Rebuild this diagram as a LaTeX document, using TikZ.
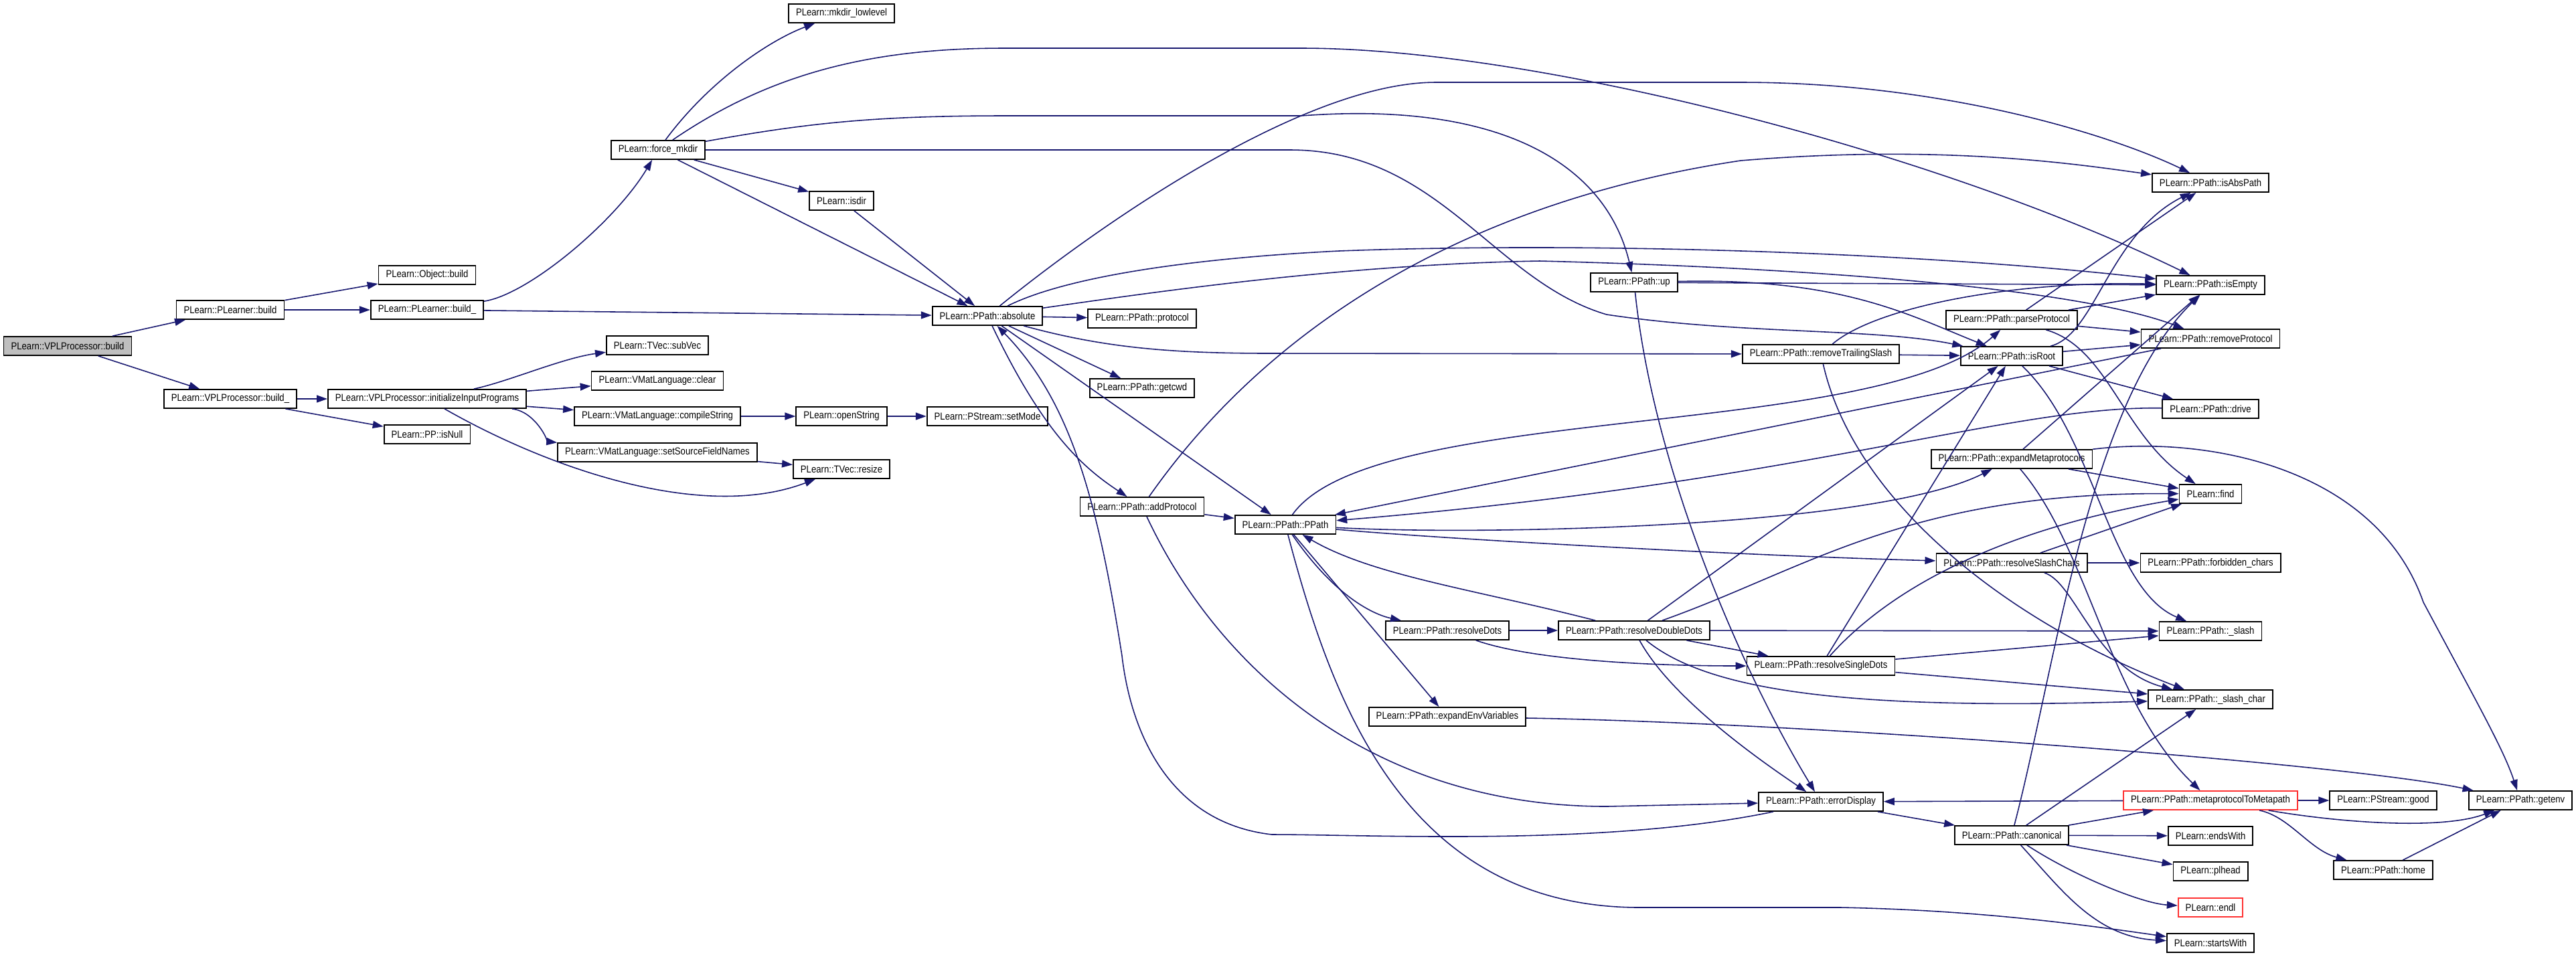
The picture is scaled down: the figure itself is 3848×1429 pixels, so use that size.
\documentclass[tikz,border=0pt]{standalone}
\usepackage{fontspec}
\setmainfont{Liberation Sans}[FakeStretch=0.87]
\usetikzlibrary{arrows.meta}
\definecolor{midnight}{HTML}{191970}
\definecolor{rootgray}{HTML}{BFBFBF}
\tikzset{
  fnbox/.style={draw=black, line width=0.5pt, fill=white, minimum height=0.28cm,
    inner xsep=0.11cm, inner ysep=0pt, font=\fontsize{4.3}{5}\selectfont},
  fnroot/.style={fnbox, fill=rootgray},
  fnred/.style={fnbox, draw=red!80!white},
  callarrow/.style={draw=midnight, line width=0.45pt, -{Triangle[length=0.16cm,width=0.11cm]}},
}
\begin{document}
\begin{tikzpicture}[x=0.01cm, y=-0.01cm]
% Picture size in pixels of the call graph
\useasboundingbox (0,0) rectangle (3848,1429);

% Callers and first levels
\node[fnroot] (vb) at (101,517) {PLearn::VPLProcessor::build};
\node[fnbox] (pb) at (344,463) {PLearn::PLearner::build};
\node[fnbox] (vbu) at (344,596) {PLearn::VPLProcessor::build\_};
\node[fnbox] (ob) at (638,411) {PLearn::Object::build};
\node[fnbox] (pbu) at (638,463) {PLearn::PLearner::build\_};
\node[fnbox] (iip) at (638,596) {PLearn::VPLProcessor::initializeInputPrograms};
\node[fnbox] (isn) at (638,649) {PLearn::PP::isNull};
\node[fnbox] (fmk) at (983,224) {PLearn::force\_mkdir};
\node[fnbox] (sub) at (982,516) {PLearn::TVec::subVec};
\node[fnbox] (clr) at (982,569) {PLearn::VMatLanguage::clear};
\node[fnbox] (cmp) at (982,622) {PLearn::VMatLanguage::compileString};
\node[fnbox] (ssf) at (982,676) {PLearn::VMatLanguage::setSourceFieldNames};
\node[fnbox] (mkl) at (1257,20) {PLearn::mkdir\_lowlevel};
\node[fnbox] (isd) at (1257,300) {PLearn::isdir};
\node[fnbox] (ops) at (1257,622) {PLearn::openString};
\node[fnbox] (rsz) at (1257,701) {PLearn::TVec::resize};
\node[fnbox] (abs) at (1475,472) {PLearn::PPath::absolute};
\node[fnbox] (stm) at (1475,622) {PLearn::PStream::setMode};

% PPath part
\node[fnbox] (pro) at (1706,476) {PLearn::PPath::protocol};
\node[fnbox] (cwd) at (1706,580) {PLearn::PPath::getcwd};
\node[fnbox] (adp) at (1706,757) {PLearn::PPath::addProtocol};
\node[fnbox] (pp) at (1920,784) {PLearn::PPath::PPath};
\node[fnbox] (rdt) at (2162,942) {PLearn::PPath::resolveDots};
\node[fnbox] (eev) at (2162,1071) {PLearn::PPath::expandEnvVariables};
\node[fnbox] (up) at (2441,422) {PLearn::PPath::up};
\node[fnbox] (rdd) at (2441,942) {PLearn::PPath::resolveDoubleDots};
\node[fnbox] (rts) at (2720,529) {PLearn::PPath::removeTrailingSlash};
\node[fnbox] (rsd) at (2720,995) {PLearn::PPath::resolveSingleDots};
\node[fnbox] (err) at (2720,1198) {PLearn::PPath::errorDisplay};
\node[fnbox] (ppr) at (3005,478) {PLearn::PPath::parseProtocol};
\node[fnbox] (isr) at (3005,532) {PLearn::PPath::isRoot};
\node[fnbox] (emp) at (3005,686) {PLearn::PPath::expandMetaprotocols};
\node[fnbox] (rsc) at (3005,841) {PLearn::PPath::resolveSlashChars};
\node[fnbox] (can) at (3005,1248) {PLearn::PPath::canonical};

% Leaves on the right
\node[fnbox] (iap) at (3302,273) {PLearn::PPath::isAbsPath};
\node[fnbox] (ise) at (3302,426) {PLearn::PPath::isEmpty};
\node[fnbox] (rmp) at (3302,506) {PLearn::PPath::removeProtocol};
\node[fnbox] (drv) at (3302,611) {PLearn::PPath::drive};
\node[fnbox] (fnd) at (3302,738) {PLearn::find};
\node[fnbox] (fbc) at (3302,841) {PLearn::PPath::forbidden\_chars};
\node[fnbox] (sl) at (3302,943) {PLearn::PPath::\_slash};
\node[fnbox] (slc) at (3302,1045) {PLearn::PPath::\_slash\_char};
\node[fnred] (mtm) at (3302,1196) {PLearn::PPath::metaprotocolToMetapath};
\node[fnbox] (ew) at (3302,1249) {PLearn::endsWith};
\node[fnbox] (plh) at (3302,1302) {PLearn::plhead};
\node[fnred] (endl) at (3302,1356) {PLearn::endl};
\node[fnbox] (sw) at (3302,1409) {PLearn::startsWith};
\node[fnbox] (gd) at (3560,1196) {PLearn::PStream::good};
\node[fnbox] (hom) at (3560,1300) {PLearn::PPath::home};
\node[fnbox] (gtv) at (3765,1196) {PLearn::PPath::getenv};

% Calls on the left
\draw[callarrow] (vb) -- (pb);
\draw[callarrow] (vb) -- (vbu);
\draw[callarrow] (pb) -- (ob);
\draw[callarrow] (pb) -- (pbu);
\draw[callarrow] (pbu) .. controls (790,440) and (920,330) .. (fmk);
\draw[callarrow] (pbu) -- (abs);
\draw[callarrow] (vbu) -- (iip);
\draw[callarrow] (vbu) -- (isn);
\draw[callarrow] (iip) .. controls (760,570) and (840,535) .. (sub);
\draw[callarrow] (iip) -- (clr);
\draw[callarrow] (iip) -- (cmp);
\draw[callarrow] (iip) .. controls (800,615) and (820,660) .. (ssf);
\draw[callarrow] (iip) .. controls (820,700) and (1050,780) .. (rsz);
\draw[callarrow] (ssf) -- (rsz);
\draw[callarrow] (cmp) -- (ops);
\draw[callarrow] (ops) -- (stm);

% force_mkdir
\draw[callarrow] (fmk) .. controls (1060,120) and (1150,60) .. (mkl);
\draw[callarrow] (fmk) -- (isd);
\draw[callarrow] (fmk) -- (abs);
\draw[callarrow] (fmk) .. controls (1150,110) and (1300,72) .. (1500,72) -- (1944,72) .. controls (2300,72) and (2900,230) .. (ise);
\draw[callarrow] (fmk) .. controls (1200,185) and (1300,173) .. (1500,173) -- (1944,173) .. controls (2250,150) and (2400,250) .. (up);
\draw[callarrow] (fmk) -- (1927,224) .. controls (2150,224) and (2230,420) .. (2400,470) .. controls (2600,500) and (2800,490) .. (isr);
\draw[callarrow] (isd) -- (abs);

% absolute
\draw[callarrow] (abs) -- (pro);
\draw[callarrow] (abs) -- (cwd);
\draw[callarrow] (abs) .. controls (1560,650) and (1620,700) .. (adp);
\draw[callarrow] (abs) -- (pp);
\draw[callarrow] (abs) .. controls (1650,330) and (1950,123) .. (2145,123) -- (2600,123) .. controls (2900,123) and (3150,200) .. (iap);
\draw[callarrow] (abs) .. controls (1600,410) and (1800,385) .. (2000,375) .. controls (2400,360) and (2900,380) .. (ise);
\draw[callarrow] (abs) .. controls (1700,440) and (2000,395) .. (2300,390) .. controls (2700,400) and (3100,430) .. (rmp);
\draw[callarrow] (abs) .. controls (1650,520) and (1750,528) .. (1900,528) -- (rts);
\draw[callarrow] (err) .. controls (2400,1265) and (2050,1247) .. (1900,1247) .. controls (1750,1230) and (1690,1100) .. (1676,980) .. controls (1640,750) and (1600,600) .. (abs);

% addProtocol and PPath
\draw[callarrow] (adp) -- (pp);
\draw[callarrow] (adp) .. controls (1820,1000) and (2050,1205) .. (2400,1205) -- (err);
\draw[callarrow] (adp) .. controls (1900,480) and (2200,300) .. (2600,240) .. controls (2900,215) and (3100,245) .. (iap);
\draw[callarrow] (pp) .. controls (2000,900) and (2060,920) .. (rdt);
\draw[callarrow] (pp) -- (eev);
\draw[callarrow] (pp) .. controls (1990,1050) and (2100,1356) .. (2450,1356) -- (2750,1356) .. controls (2950,1360) and (3100,1380) .. (sw);
\draw[callarrow] (pp) .. controls (2050,600) and (2800,660) .. (ppr);
\draw[callarrow] (pp) .. controls (2200,800) and (2800,790) .. (emp);
\draw[callarrow] (pp) .. controls (2150,805) and (2600,830) .. (rsc);
\draw[callarrow] (rmp) -- (pp);
\draw[callarrow] (drv) .. controls (3000,606) and (2700,720) .. (pp);

% resolveDots family
\draw[callarrow] (rdt) -- (rdd);
\draw[callarrow] (rdt) .. controls (2300,990) and (2500,995) .. (rsd);
\draw[callarrow] (rdd) -- (rsd);
\draw[callarrow] (rdd) .. controls (2200,880) and (2050,860) .. (pp);
\draw[callarrow] (rdd) -- (isr);
\draw[callarrow] (rdd) .. controls (2500,1050) and (2650,1150) .. (err);
\draw[callarrow] (rdd) -- (sl);
\draw[callarrow] (rdd) .. controls (2560,1040) and (2800,1060) .. (slc);
\draw[callarrow] (rdd) .. controls (2700,850) and (2850,735) .. (fnd);
\draw[callarrow] (rsd) -- (isr);
\draw[callarrow] (rsd) .. controls (2850,850) and (3050,780) .. (fnd);
\draw[callarrow] (rsd) -- (sl);
\draw[callarrow] (rsd) -- (slc);

% up and removeTrailingSlash
\draw[callarrow] (up) -- (ise);
\draw[callarrow] (up) .. controls (2750,415) and (2850,470) .. (isr);
\draw[callarrow] (up) .. controls (2470,700) and (2600,1000) .. (err);
\draw[callarrow] (rts) -- (isr);
\draw[callarrow] (rts) .. controls (2800,460) and (3000,420) .. (ise);
\draw[callarrow] (rts) .. controls (2770,750) and (3000,930) .. (slc);

% parseProtocol, isRoot, expandMetaprotocols, resolveSlashChars
\draw[callarrow] (ppr) -- (iap);
\draw[callarrow] (ppr) -- (ise);
\draw[callarrow] (ppr) -- (rmp);
\draw[callarrow] (ppr) .. controls (3150,520) and (3170,650) .. (fnd);
\draw[callarrow] (isr) .. controls (3130,500) and (3150,350) .. (iap);
\draw[callarrow] (isr) -- (rmp);
\draw[callarrow] (isr) -- (drv);
\draw[callarrow] (isr) .. controls (3130,650) and (3150,880) .. (sl);
\draw[callarrow] (emp) -- (ise);
\draw[callarrow] (emp) -- (fnd);
\draw[callarrow] (emp) .. controls (3120,820) and (3150,1050) .. (mtm);
\draw[callarrow] (emp) .. controls (3300,650) and (3550,700) .. (3620,900) .. controls (3700,1050) and (3740,1120) .. (gtv);
\draw[callarrow] (rsc) -- (fbc);
\draw[callarrow] (rsc) -- (fnd);
\draw[callarrow] (rsc) .. controls (3100,870) and (3130,1000) .. (slc);

% canonical and the bottom row
\draw[callarrow] (err) -- (can);
\draw[callarrow] (mtm) -- (err);
\draw[callarrow] (can) -- (mtm);
\draw[callarrow] (can) -- (ew);
\draw[callarrow] (can) -- (plh);
\draw[callarrow] (can) .. controls (3100,1310) and (3200,1350) .. (endl);
\draw[callarrow] (can) .. controls (3080,1330) and (3130,1400) .. (sw);
\draw[callarrow] (can) -- (slc);
\draw[callarrow] (can) .. controls (3070,1000) and (3120,600) .. (ise);
\draw[callarrow] (mtm) -- (gd);
\draw[callarrow] (mtm) .. controls (3500,1230) and (3650,1240) .. (gtv);
\draw[callarrow] (mtm) .. controls (3420,1220) and (3450,1270) .. (hom);
\draw[callarrow] (hom) -- (gtv);
\draw[callarrow] (eev) .. controls (2700,1080) and (3500,1140) .. (gtv);
\end{tikzpicture}
\end{document}
